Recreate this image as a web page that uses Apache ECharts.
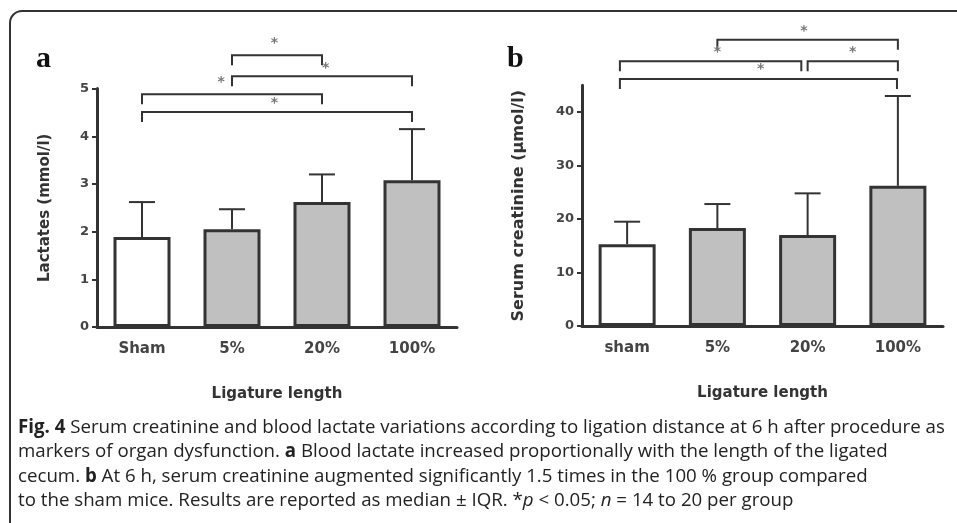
<!DOCTYPE html>
<html>
<head>
<meta charset="utf-8">
<script src="https://cdn.jsdelivr.net/npm/echarts@6/dist/echarts.min.js"></script>
<style>
  html, body { margin: 0; padding: 0; background: #fff; }
  #main { width: 957px; height: 523px; }
</style>
</head>
<body>
<div id="main"></div>
<script>
// panel a : lactates
const catsA = ['Sham', '5%', '20%', '100%'];
const lactMedian = [1.89, 2.05, 2.62, 3.08];
const lactUpper = [2.62, 2.47, 3.2, 4.15];
// brackets: [from, to, level]
const bracketsA = [[1, 2, 5.70], [1, 3, 5.26], [0, 2, 4.88], [0, 3, 4.51]];
const starsA = [[1.47, 5.95], [2.04, 5.43], [0.88, 5.14], [1.47, 4.70]];

// panel b : serum creatinine
const catsB = ['sham', '5%', '20%', '100%'];
const creatMedian = [15.3, 18.3, 17.0, 26.2];
const creatUpper = [19.5, 22.8, 24.8, 43.0];
const bracketsB = [[1, 3, 53.5], [-0.08, 1.93, 49.5], [2, 3, 49.5], [-0.08, 2.99, 46.2]];
const starsB = [[1.96, 55.0], [1.0, 51.2], [2.5, 51.2], [1.48, 47.9]];

const dark = '#333';
const grey = '#c0c0c0';
const axisFont = 'DejaVu Sans';

var chart = echarts.init(document.getElementById('main'));

function barData(vals) {
  return vals.map((v, i) => ({
    value: v,
    itemStyle: { color: i === 0 ? '#fff' : grey }
  }));
}

// 误差线（只画上半部分）
function errorItem(params, api) {
  var lo = api.coord([api.value(0), api.value(1)]);
  var hi = api.coord([api.value(0), api.value(2)]);
  var half = 13;
  return {
    type: 'group',
    children: [
      { type: 'line', shape: { x1: lo[0], y1: lo[1], x2: hi[0], y2: hi[1] }, style: { stroke: dark, lineWidth: 2 } },
      { type: 'line', shape: { x1: hi[0] - half, y1: hi[1], x2: hi[0] + half, y2: hi[1] }, style: { stroke: dark, lineWidth: 2 } }
    ]
  };
}

function xAt(api, c, v) {
  var base = Math.round(c);
  var bw = api.size([1, 0])[0];
  var p = api.coord([base, v]);
  return [p[0] + (c - base) * bw, p[1]];
}

// 显著性括号
function bracketItem(params, api) {
  var a = xAt(api, api.value(0), api.value(2));
  var b = xAt(api, api.value(1), api.value(2));
  var leg = 10;
  return {
    type: 'polyline',
    shape: { points: [[a[0], a[1] + leg], [a[0], a[1]], [b[0], b[1]], [b[0], b[1] + leg]] },
    style: { stroke: dark, lineWidth: 2, fill: null }
  };
}

function starItem(params, api) {
  var p = xAt(api, api.value(0), api.value(1));
  return {
    type: 'text',
    x: p[0], y: p[1],
    style: { text: '*', fill: '#777', font: 'bold 14px ' + axisFont, align: 'center', verticalAlign: 'middle' }
  };
}

function xAxisCfg(idx, cats) {
  return {
    type: 'category', gridIndex: idx, data: cats,
    name: 'Ligature length', nameLocation: 'middle', nameGap: 60,
    nameTextStyle: { fontFamily: axisFont, fontWeight: 'bold', fontSize: 15, color: dark },
    axisLine: { lineStyle: { color: dark, width: 3 } },
    axisTick: { alignWithLabel: true, length: 6, lineStyle: { color: dark, width: 2 } },
    axisLabel: { margin: 15, fontFamily: axisFont, fontWeight: 'bold', fontSize: 15, color: '#444' },
    splitLine: { show: false }
  };
}

function yAxisCfg(idx, name, max, interval, gap, nameSize) {
  var vals = [];
  for (var v = 0; v <= max; v += interval) vals.push(v);
  return {
    type: 'value', gridIndex: idx, min: 0, max: max, interval: interval,
    name: name, nameLocation: 'middle', nameGap: gap,
    nameTextStyle: { fontFamily: axisFont, fontWeight: 'bold', fontSize: nameSize, color: dark },
    axisLine: { show: true, lineStyle: { color: dark, width: 3 } },
    axisTick: { show: true, length: 5, customValues: vals, lineStyle: { color: dark, width: 2 } },
    axisLabel: { margin: 8, customValues: vals, fontFamily: axisFont, fontWeight: 'bold', fontSize: 13, color: '#444' },
    splitLine: { show: false }
  };
}

const captionLines = [
  '{b|Fig. 4} Serum creatinine and blood lactate variations according to ligation distance at 6 h after procedure as',
  'markers of organ dysfunction. {b|a} Blood lactate increased proportionally with the length of the ligated',
  'cecum. {b|b} At 6 h, serum creatinine augmented significantly 1.5 times in the 100 % group compared',
  'to the sham mice. Results are reported as median ± IQR. *{i|p} < 0.05; {i|n} = 14 to 20 per group'
];
const capSize = 18.7;

var graphics = [
  { type: 'rect', shape: { x: 10, y: 11, width: 990, height: 540, r: 12 }, style: { fill: null, stroke: dark, lineWidth: 2 }, silent: true },
  { type: 'text', left: 36, top: 44, style: { text: 'a', font: 'bold 30px "Liberation Serif"', fill: '#111' } },
  { type: 'text', left: 507, top: 44, style: { text: 'b', font: 'bold 30px "Liberation Serif"', fill: '#111' } }
];
captionLines.forEach(function (t, i) {
  graphics.push({
    type: 'text', left: 18, top: 418 + i * 24.5,
    style: {
      text: t, font: capSize + 'px "Open Sans"', fill: '#222',
      rich: {
        b: { fontFamily: 'Open Sans', fontWeight: 'bold', fontSize: capSize, fill: '#222' },
        i: { fontFamily: 'Open Sans', fontStyle: 'italic', fontSize: capSize, fill: '#222' }
      }
    }
  });
});

var option = {
  animation: false,
  backgroundColor: '#fff',
  grid: [
    { left: 97, top: 88.6, width: 360, height: 238.4 },
    { left: 582, top: 85.3, width: 361, height: 240.7 }
  ],
  xAxis: [xAxisCfg(0, catsA), xAxisCfg(1, catsB)],
  yAxis: [
    yAxisCfg(0, 'Lactates (mmol/l)', 5, 1, 44, 15),
    yAxisCfg(1, 'Serum creatinine (µmol/l)', 45, 10, 55, 16)
  ],
  series: [
    { type: 'bar', xAxisIndex: 0, yAxisIndex: 0, barWidth: 57, data: barData(lactMedian),
      itemStyle: { borderColor: dark, borderWidth: 3 }, z: 3 },
    { type: 'bar', xAxisIndex: 1, yAxisIndex: 1, barWidth: 57, data: barData(creatMedian),
      itemStyle: { borderColor: dark, borderWidth: 3 }, z: 3 },
    { type: 'custom', xAxisIndex: 0, yAxisIndex: 0, renderItem: errorItem, z: 2,
      data: lactMedian.map((m, i) => [i, m, lactUpper[i]]) },
    { type: 'custom', xAxisIndex: 1, yAxisIndex: 1, renderItem: errorItem, z: 2,
      data: creatMedian.map((m, i) => [i, m, creatUpper[i]]) },
    { type: 'custom', xAxisIndex: 0, yAxisIndex: 0, renderItem: bracketItem, clip: false, data: bracketsA },
    { type: 'custom', xAxisIndex: 1, yAxisIndex: 1, renderItem: bracketItem, clip: false, data: bracketsB },
    { type: 'custom', xAxisIndex: 0, yAxisIndex: 0, renderItem: starItem, clip: false, data: starsA },
    { type: 'custom', xAxisIndex: 1, yAxisIndex: 1, renderItem: starItem, clip: false, data: starsB }
  ],
  graphic: graphics
};

chart.setOption(option);
</script>
</body>
</html>
